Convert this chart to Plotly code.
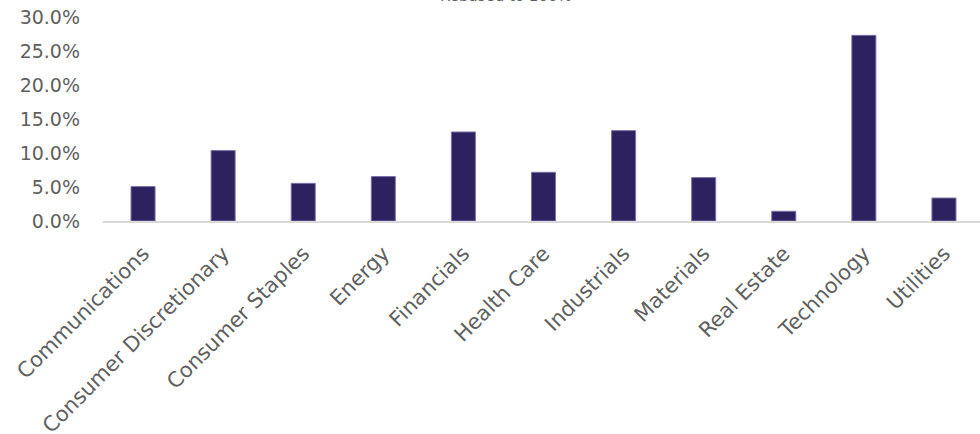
import plotly.graph_objects as go

categories = ["Communications", "Consumer Discretionary", "Consumer Staples", "Energy",
              "Financials", "Health Care", "Industrials", "Materials", "Real Estate",
              "Technology", "Utilities"]
weights = [0.0506, 0.1035, 0.0554, 0.0653, 0.1309, 0.0716, 0.1329, 0.0638, 0.0143, 0.2730, 0.0338]
y_ticks = [0.0, 0.05, 0.10, 0.15, 0.20, 0.25, 0.30]
title_text = "Rebased to 100%"

FONT = "DejaVu Sans"
GRAY = "#5f5f5f"

fig = go.Figure()
fig.add_trace(go.Bar(
    x=categories, y=weights,
    marker=dict(color="#2E2160", line=dict(color="#7a70a8", width=1)),
    width=0.3,
))

fig.update_layout(
    width=980, height=434,
    margin=dict(l=103, r=0, t=17, b=213, autoexpand=False),
    paper_bgcolor="white", plot_bgcolor="white",
    showlegend=False,
    font=dict(family=FONT, color=GRAY, size=17),
    annotations=[dict(text=title_text, xref="paper", yref="paper", x=0.4595, y=1.049,
                      xanchor="center", yanchor="bottom", showarrow=False,
                      font=dict(size=15, color=GRAY, family=FONT))],
)
fig.update_xaxes(
    range=[-0.5, 10.45], tickangle=-45, showgrid=False, automargin=False,
    showline=True, linecolor="#d9d9d9", linewidth=2,
    ticks="", tickfont=dict(size=21, color=GRAY, family=FONT),
    ticklabelstandoff=10,
)
fig.update_yaxes(
    range=[0, 0.30], tickvals=y_ticks, tickformat=".1%", showgrid=False,
    zeroline=False, showline=False, ticks="", automargin=False,
    tickfont=dict(size=19, color=GRAY, family=FONT),
    ticklabelstandoff=22,
)

fig.write_html("out.html", config={"displayModeBar": False},
               post_script="document.body.style.margin='0px';")
